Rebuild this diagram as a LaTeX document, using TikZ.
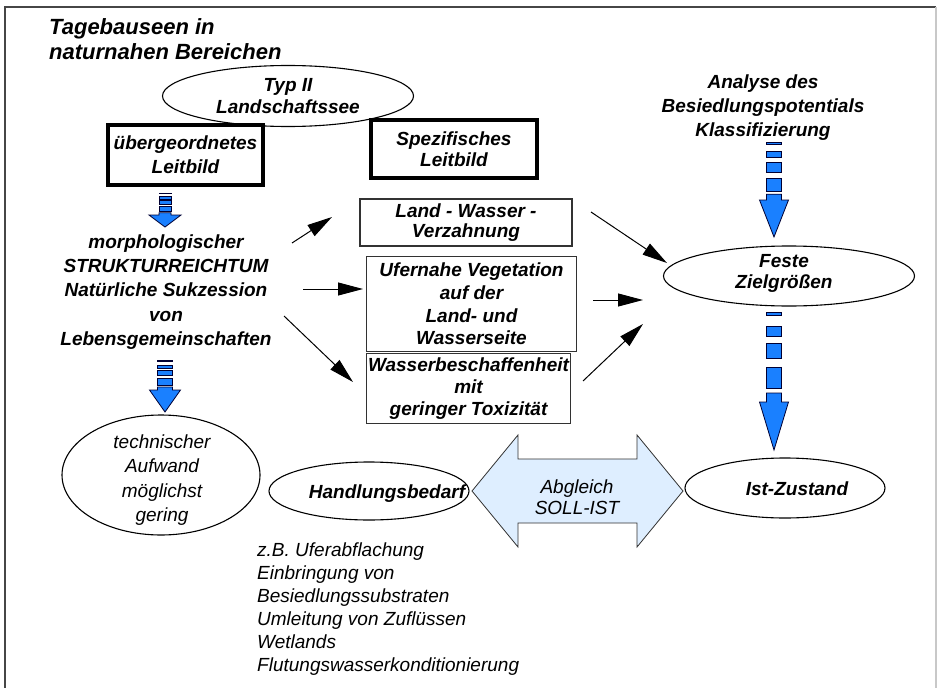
\documentclass[tikz,border=0pt]{standalone}
\usepackage{fontspec}
\setmainfont{Liberation Sans}
\usetikzlibrary{shapes.geometric,arrows.meta}
\definecolor{stripeblue}{RGB}{26,128,255}
\definecolor{lightblue}{RGB}{222,238,255}
\definecolor{boxgray}{RGB}{50,50,50}
\definecolor{framedark}{RGB}{70,70,70}
\definecolor{framelight}{RGB}{200,200,200}

% #1 x centre, #2 y top, #3 y head base, #4 y tip, #5 shaft width, #6 head width
\newcommand{\striparrow}[6]{%
  \pgfmathsetmacro\sL{#3-#2}%
  \pgfmathsetmacro\sw{#5/2}%
  \pgfmathsetmacro\hw{#6/2}%
  \foreach \p/\q in {0/0.035,0.165/0.27,0.35/0.52,0.62/0.85}{%
    \filldraw[stripe] (#1-\sw,#2+\p*\sL) rectangle (#1+\sw,#2+\q*\sL);}%
  \filldraw[stripe] (#1-\sw,#2+0.9*\sL) -- (#1+\sw,#2+0.9*\sL) -- (#1+\sw,#3)
     -- (#1+\hw,#3) -- (#1,#4) -- (#1-\hw,#3) -- (#1-\sw,#3) -- cycle;%
}

\begin{document}
\begin{tikzpicture}[x=1pt,y=-1pt,
  bi/.style={font=\fontsize{19}{#1}\selectfont\bfseries\itshape, align=center, inner sep=0pt},
  bi/.default=24,
  ri/.style={font=\fontsize{19}{#1}\selectfont\itshape, align=center, inner sep=0pt},
  ri/.default=23,
  thickbox/.style={draw=black, line width=4.5pt, rectangle},
  thinbox/.style={draw=boxgray, line width=1.5pt, rectangle},
  ell/.style={ellipse, draw=black, line width=1.1pt, inner sep=0pt},
  stripe/.style={fill=stripeblue, draw=black!80!blue, line width=0.8pt},
  arr/.style={-{Triangle[length=25pt,width=13pt]}, line width=1pt, black},
]
\useasboundingbox (0,0) rectangle (940,688);
\fill[white] (0,0) rectangle (940,688);

% frame
\draw[framedark, line width=2pt] (5,700) -- (5,7) -- (936,7);
\draw[framelight, line width=2pt] (936,7) -- (936,700);

% title
\node[font=\fontsize{22}{24.5}\selectfont\bfseries\itshape, align=left, inner sep=0pt, anchor=west]
  (title) at (49,39.3) {Tagebauseen in\\naturnahen Bereichen};

% top ellipse and boxes
\node[ell, minimum width=251pt, minimum height=61pt, bi=22] (typ) at (288,96) {Typ II\\Landschaftssee};
\node[thickbox, minimum width=155pt, minimum height=60pt, bi=24] (ueber) at (185.5,155) {übergeordnetes\\Leitbild};
\node[thickbox, minimum width=166pt, minimum height=58pt, bi=21] (spez) at (454,149) {Spezifisches\\Leitbild};

% left stack
\node[bi=24.25] (morph) at (166,292) {morphologischer\\STRUKTURREICHTUM\\Natürliche Sukzession\\von\\Lebensgemeinschaften};

\node[ell, minimum width=198pt, minimum height=120pt] (tech) at (161,475) {};
\node[ri=24.3] (techtxt) at (162,480) {technischer\\Aufwand\\möglichst\\gering};

% middle boxes
\node[thinbox, minimum width=212pt, minimum height=47pt, bi=20] (box1) at (466,222.5) {Land - Wasser -\\Verzahnung};
\node[thinbox, minimum width=210pt, minimum height=95pt, bi=22.7] (box2) at (471.5,304) {Ufernahe Vegetation\\auf der\\Land- und\\Wasserseite};
\node[thinbox, minimum width=204pt, minimum height=70pt, bi=22] (box3) at (468.5,388.5) {Wasserbeschaffenheit\\mit\\geringer Toxizität};

% right column
\node[bi=24] (analyse) at (763,108) {Analyse des\\Besiedlungspotentials\\Klassifizierung};
\node[ell, minimum width=251pt, minimum height=60pt] (feste) at (789,276) {};
\node[bi=21] (festetxt) at (784,273.5) {Feste\\Zielgrößen};
\node[ell, minimum width=200pt, minimum height=60pt] (ist) at (785,488) {};
\node[bi] (isttxt) at (797,489) {Ist-Zustand};

% bottom
\node[ell, minimum width=200pt, minimum height=58pt] (handl) at (369,491) {};
\filldraw[fill=lightblue, draw=boxgray, line width=0.8pt]
  (472,491) -- (518,435) -- (518,459) -- (637,459) -- (637,435) -- (683,491)
  -- (637,547) -- (637,523) -- (518,523) -- (518,547) -- cycle;
\node[bi] (handltxt) at (387,494) {Handlungsbedarf};
\node[ri=21] (abgl) at (577,497.5) {Abgleich\\SOLL-IST};

\node[ri=23, align=left, anchor=west] (list) at (257,609)
  {z.B. Uferabflachung\\Einbringung von\\Besiedlungssubstraten\\Umleitung von Zuflüssen\\Wetlands\\Flutungswasserkonditionierung};

% striped arrows
\striparrow{165}{193}{215}{227}{12}{32}
\striparrow{165}{360}{390}{412}{15}{31}
\striparrow{774}{142}{200}{237}{15}{29}
\striparrow{774}{312}{402}{450}{15}{29}

% thin arrows
\coordinate (a1s) at (292,243); \coordinate (a1e) at (332,217);
\coordinate (a2s) at (303,289); \coordinate (a2e) at (363,289);
\coordinate (a3s) at (284,316); \coordinate (a3e) at (353,382);
\coordinate (a4s) at (591,212); \coordinate (a4e) at (667,263);
\coordinate (a5s) at (593,300); \coordinate (a5e) at (643,300);
\coordinate (a6s) at (583,381); \coordinate (a6e) at (643,324);
\draw[arr] (a1s) -- (a1e);
\draw[arr] (a2s) -- (a2e);
\draw[arr] (a3s) -- (a3e);
\draw[arr] (a4s) -- (a4e);
\draw[arr] (a5s) -- (a5e);
\draw[arr] (a6s) -- (a6e);
\end{tikzpicture}
\end{document}
